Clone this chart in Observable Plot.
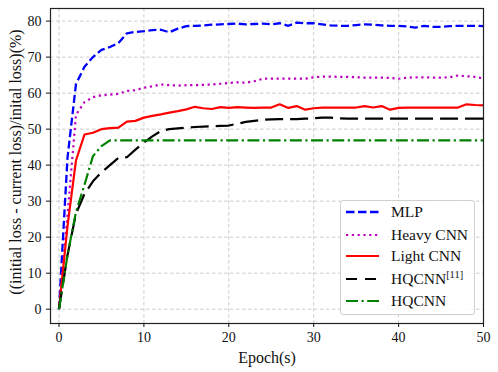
<!DOCTYPE html>
<html><head><meta charset="utf-8">
<script src="https://cdn.jsdelivr.net/npm/d3@7"></script>
<script src="https://cdn.jsdelivr.net/npm/@observablehq/plot@0.6"></script>
<style>
body{margin:0;background:#fff;}
#wrap{position:relative;width:498px;height:372px;font-family:"Liberation Serif",serif;}
.legend{position:absolute;left:340px;top:200px;width:133px;height:113px;border:1px solid #d0d0d0;border-radius:3px;background:rgba(255,255,255,0.85);}
.row{position:absolute;left:0;width:133px;height:20px;}
.row svg{position:absolute;left:5px;top:0;}
.row span{position:absolute;left:50px;top:0;line-height:20px;font-size:15.5px;white-space:nowrap;color:#111;}
.row sup{font-size:10.5px;vertical-align:0;position:relative;top:-6px;}
</style></head><body><div id="wrap"></div>
<script>
const epochs = [0,1,2,3,4,5,6,7,8,9,10,11,12,13,14,15,16,17,18,19,20,21,22,23,24,25,26,27,28,29,30,31,32,33,34,35,36,37,38,39,40,41,42,43,44,45,46,47,48,49,50];
const mlp = [0,42,62.5,67.3,70,72,72.8,73.9,76.6,77,77.2,77.5,77.6,76.9,77.9,78.6,78.7,78.8,79,79.1,79.2,79.3,79.1,79.2,79.3,79.1,79.4,78.7,79.6,79.4,79.4,79.1,78.8,78.7,78.7,78.9,79.1,79,78.8,78.7,78.7,78.5,78.2,78.7,78.4,78.4,78.6,78.7,78.7,78.7,78.6];
const heavyCnn = [0,26,54,57.5,58.9,59.4,59.6,59.8,60.6,60.8,61.5,61.9,62.4,62.2,62.1,62.2,62.2,62.3,62.4,62.6,62.8,63,62.9,63.3,64,64,64,64,64,64,64.4,64.6,64.6,64.5,64.5,64.4,64.3,64.3,64.3,64.2,64,64.3,64.4,64.4,64.3,64.3,64.4,64.9,64.7,64.5,64.1];
const lightCnn = [0,23,41.3,48.5,49,50,50.3,50.4,52.1,52.3,53.2,53.7,54.1,54.6,55,55.5,56.2,55.8,55.6,56.1,55.9,56.1,56,55.9,56,56,56.9,55.9,56.4,55.4,55.8,56,56,56,56,56,56.4,56,56.4,55.4,55.9,56,56,56,56,56,56,56,56.9,56.7,56.6];
const hqcnnRef = [0,15,26.5,32,35.5,38,40,42,42.2,44.3,46.3,48,49.5,50,50.2,50.4,50.6,50.7,50.8,50.9,51,51.5,52,52.3,52.6,52.7,52.8,52.8,52.8,52.9,53,53.2,53.2,53,52.9,52.9,52.9,52.9,52.9,52.9,52.9,52.9,52.9,52.9,52.9,52.9,52.9,52.9,52.9,52.9,52.9];
const hqcnn = [0,15,27,34.5,42.5,45.3,46.9,46.9,46.9,46.9,46.9,46.9,46.9,46.9,46.9,46.9,46.9,46.9,46.9,46.9,46.9,46.9,46.9,46.9,46.9,46.9,46.9,46.9,46.9,46.9,46.9,46.9,46.9,46.9,46.9,46.9,46.9,46.9,46.9,46.9,46.9,46.9,46.9,46.9,46.9,46.9,46.9,46.9,46.9,46.9,46.9];
const xTicks = [0,10,20,30,40,50];
const yTicks = [0,10,20,30,40,50,60,70,80];
const xLabel = "Epoch(s)";
const yLabel = "((initial loss - current loss)/inital loss)(%)";

const series = [
  {name:"MLP", html:"MLP", values:mlp, color:"#0000ff", dash:"8,3.5", legendDash:"8.5,3.5", width:2.3},
  {name:"Heavy CNN", html:"Heavy CNN", values:heavyCnn, color:"#bf00bf", dash:"2.2,3.6", legendDash:"2.2,3.6", width:2.2},
  {name:"Light CNN", html:"Light CNN", values:lightCnn, color:"#ff0000", dash:null, legendDash:null, width:2.2},
  {name:"HQCNN[11]", html:"HQCNN<sup>[11]</sup>", values:hqcnnRef, color:"#000000", dash:"18,7", legendDash:"11,8", width:2.2},
  {name:"HQCNN", html:"HQCNN", values:hqcnn, color:"#008000", dash:"12,3.5,2.2,3.5", legendDash:"12,3.5,2.2,3.5", width:2.2}
];

const gridStyle = {stroke:"#c8c8c8", strokeOpacity:1, strokeWidth:0.9, strokeDasharray:"3.5,2.5"};

const chart = Plot.plot({
  width: 498,
  height: 372,
  marginLeft: 50,
  marginRight: 15,
  marginTop: 8,
  marginBottom: 49,
  style: {fontFamily: "'Liberation Serif', serif", fontSize: "14px", color: "#111", background: "#fff"},
  x: {domain: [-1, 50]},
  y: {domain: [-3.97, 83.5]},
  marks: [
    Plot.gridX(xTicks, gridStyle),
    Plot.gridY(yTicks, gridStyle),
    ...series.map(s => Plot.line(epochs.map((e, i) => ({epoch: e, value: s.values[i]})), {
      x: "epoch", y: "value", stroke: s.color, strokeWidth: s.width,
      strokeDasharray: s.dash, strokeLinecap: "butt", strokeLinejoin: "round"
    })),
    Plot.frame({stroke: "#222", strokeWidth: 1.2}),
    Plot.axisX(xTicks, {tickSize: 4, tickPadding: 5, label: null, fontSize: 14}),
    Plot.axisY(yTicks, {tickSize: 4, tickPadding: 5, label: null, fontSize: 14}),
    Plot.text([xLabel], {frameAnchor: "bottom", dy: 34, text: d => d, fontSize: 16, textAnchor: "middle", lineAnchor: "middle"}),
    Plot.text([yLabel], {frameAnchor: "left", dx: -35, dy: -4, rotate: -90, text: d => d, fontSize: 16, textAnchor: "middle", lineAnchor: "middle"})
  ]
});

const wrap = document.getElementById("wrap");
wrap.appendChild(chart);

const legend = document.createElement("div");
legend.className = "legend";
const rowCenters = [11, 33.5, 55, 77.5, 100];
series.forEach((s, i) => {
  const row = document.createElement("div");
  row.className = "row";
  row.style.top = (rowCenters[i] - 10) + "px";
  const dashAttr = s.legendDash ? ` stroke-dasharray="${s.legendDash}"` : "";
  row.innerHTML = `<svg width="34" height="20"><line x1="0" x2="33" y1="10" y2="10" stroke="${s.color}" stroke-width="${s.width}"${dashAttr} stroke-linecap="butt"/></svg><span>${s.html}</span>`;
  legend.appendChild(row);
});
wrap.appendChild(legend);
</script></body></html>
